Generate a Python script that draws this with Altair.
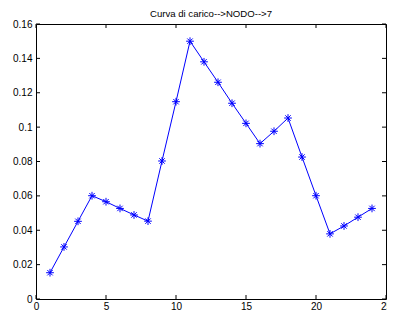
import altair as alt
import pandas as pd

hours = list(range(1, 25))
load = [0.0153, 0.0303, 0.0452, 0.0601, 0.0566, 0.0527, 0.0489, 0.0453,
        0.0803, 0.1148, 0.1500, 0.1380, 0.1261, 0.1139, 0.1022, 0.0904,
        0.0976, 0.1053, 0.0826, 0.0601, 0.0379, 0.0425, 0.0476, 0.0527]
x_ticks = [0, 5, 10, 15, 20, 25]
y_ticks = [0, 0.02, 0.04, 0.06, 0.08, 0.1, 0.12, 0.14, 0.16]
title_text = "Curva di carico-->NODO-->7"

W, H = 350, 275
FONT = "Liberation Sans"

df = pd.DataFrame({"h": hours, "v": load})
dx = pd.DataFrame({"tx": x_ticks})
dy = pd.DataFrame({"ty": y_ticks})
dt = pd.DataFrame({"t": [title_text]})

xs = alt.Scale(domain=[0, 25], nice=False)
ys = alt.Scale(domain=[0, 0.16], nice=False, zero=False)
xax = alt.Axis(values=x_ticks, title=None, labelFontSize=10, labelFont=FONT,
               labelColor="#000", labelPadding=2, labelOverlap=False, labelFlush=False,
               grid=False, ticks=False, domain=False)
yax = alt.Axis(values=y_ticks, title=None, labelFontSize=10, labelFont=FONT,
               labelColor="#000", labelPadding=4, labelOverlap=False, labelFlush=False,
               format="~g", grid=False, ticks=False, domain=False)

base = alt.Chart(df)
line = base.mark_line(color="#0000ff", strokeWidth=1).encode(
    x=alt.X("h:Q", scale=xs, axis=xax),
    y=alt.Y("v:Q", scale=ys, axis=yax),
)
star = "M-1,0L1,0M0,-1L0,1M-0.7,-0.7L0.7,0.7M-0.7,0.7L0.7,-0.7"
pts = base.mark_point(shape=star, filled=False, color="#0000ff", size=60, strokeWidth=1, opacity=1).encode(
    x=alt.X("h:Q", scale=xs, axis=xax), y=alt.Y("v:Q", scale=ys, axis=yax)
)

xt_b = alt.Chart(dx).mark_rule(color="#000", strokeWidth=1).encode(
    x=alt.X("tx:Q", scale=xs, axis=xax), y=alt.value(H), y2=alt.value(H - 4))
xt_t = alt.Chart(dx).mark_rule(color="#000", strokeWidth=1).encode(
    x=alt.X("tx:Q", scale=xs, axis=xax), y=alt.value(0), y2=alt.value(4))
yt_l = alt.Chart(dy).mark_rule(color="#000", strokeWidth=1).encode(
    y=alt.Y("ty:Q", scale=ys, axis=yax), x=alt.value(0), x2=alt.value(4))
yt_r = alt.Chart(dy).mark_rule(color="#000", strokeWidth=1).encode(
    y=alt.Y("ty:Q", scale=ys, axis=yax), x=alt.value(W), x2=alt.value(W - 4))

title_mark = alt.Chart(dt).mark_text(
    font=FONT, fontSize=9.6, color="#000", align="center", baseline="alphabetic"
).encode(text="t:N", x=alt.value(W / 2), y=alt.value(-7))

chart = alt.layer(line, pts, xt_b, xt_t, yt_l, yt_r, title_mark).properties(
    width=W, height=H,
    autosize=alt.AutoSizeParams(type="none"),
    padding={"left": 28, "top": 16, "right": 1, "bottom": 11},
    background="white",
).configure_view(stroke="#000", strokeWidth=1)

chart.save("out.html", embed_options={"renderer": "svg", "actions": False})
